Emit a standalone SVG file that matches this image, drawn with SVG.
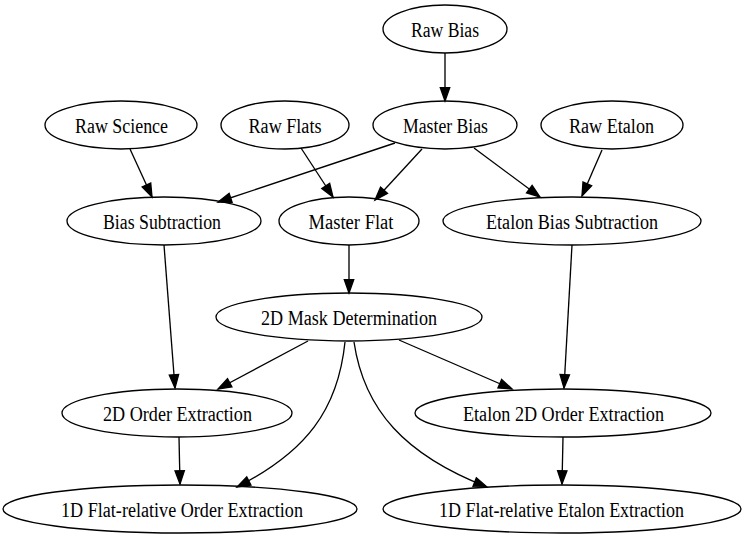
<svg xmlns="http://www.w3.org/2000/svg" width="745" height="539" viewBox="0 0 745 539">
<style>
  .node ellipse { fill: none; stroke: #000; stroke-width: 1.33; }
  .node text { font-family: "Liberation Serif", "Times New Roman", serif; font-size: 20.5px; text-anchor: middle; fill: #000; }
  #edges path { fill: none; stroke: #000; stroke-width: 1.33; marker-end: url(#arrow); }
</style>
<defs>
  <marker id="arrow" markerUnits="userSpaceOnUse" markerWidth="15" markerHeight="11" refX="13.3" refY="4.9" orient="auto" overflow="visible">
    <path d="M0,0.2 L13.3,4.9 L0,9.6 z" fill="#000" stroke="#000" stroke-width="1.33"/>
  </marker>
</defs>
<rect width="745" height="539" fill="#fff"/>
<g id="edges">
  <path d="M445,53 L445,101"/>
  <path d="M130,149 L152,197"/>
  <path d="M301,148 L333,197"/>
  <path d="M395,143 L218,202"/>
  <path d="M422,149 L375,200"/>
  <path d="M474,148 L540,197"/>
  <path d="M602,150 L582,196"/>
  <path d="M164,245 L175,388"/>
  <path d="M349,245 L349,293"/>
  <path d="M572,245 L564,388"/>
  <path d="M308,341 L218,389"/>
  <path d="M399,340 L512,389"/>
  <path d="M345,342 C338,410 306,452 237,487"/>
  <path d="M354,342 C364,410 405,455 487,487"/>
  <path d="M179,437 L180,484"/>
  <path d="M563,437 L562,484"/>
</g>
<g id="raw_bias" class="node"><ellipse cx="445" cy="29" rx="62" ry="24"/><text x="445" y="36.5" textLength="68" lengthAdjust="spacingAndGlyphs">Raw Bias</text></g>
<g id="raw_science" class="node"><ellipse cx="121" cy="125" rx="76" ry="24"/><text x="121.5" y="132.5" textLength="93" lengthAdjust="spacingAndGlyphs">Raw Science</text></g>
<g id="raw_flats" class="node"><ellipse cx="285" cy="125" rx="64" ry="24"/><text x="285" y="132.5" textLength="73" lengthAdjust="spacingAndGlyphs">Raw Flats</text></g>
<g id="master_bias" class="node"><ellipse cx="445" cy="125" rx="72" ry="24"/><text x="445.5" y="132.5" textLength="85" lengthAdjust="spacingAndGlyphs">Master Bias</text></g>
<g id="raw_etalon" class="node"><ellipse cx="612" cy="125" rx="71" ry="24"/><text x="611.5" y="132.5" textLength="85" lengthAdjust="spacingAndGlyphs">Raw Etalon</text></g>
<g id="bias_subtraction" class="node"><ellipse cx="164" cy="221" rx="97" ry="24"/><text x="162" y="228.5" textLength="118" lengthAdjust="spacingAndGlyphs">Bias Subtraction</text></g>
<g id="master_flat" class="node"><ellipse cx="349" cy="221" rx="70" ry="24"/><text x="351" y="228.5" textLength="85" lengthAdjust="spacingAndGlyphs">Master Flat</text></g>
<g id="etalon_bias_subtraction" class="node"><ellipse cx="572" cy="221" rx="129" ry="24"/><text x="572" y="228.5" textLength="172" lengthAdjust="spacingAndGlyphs">Etalon Bias Subtraction</text></g>
<g id="mask_2d" class="node"><ellipse cx="349" cy="317" rx="133" ry="24"/><text x="349" y="324.5" textLength="176" lengthAdjust="spacingAndGlyphs">2D Mask Determination</text></g>
<g id="order_2d" class="node"><ellipse cx="177" cy="413" rx="115" ry="24"/><text x="177.5" y="420.5" textLength="149" lengthAdjust="spacingAndGlyphs">2D Order Extraction</text></g>
<g id="etalon_order_2d" class="node"><ellipse cx="563" cy="413" rx="148" ry="24"/><text x="563.5" y="420.5" textLength="201" lengthAdjust="spacingAndGlyphs">Etalon 2D Order Extraction</text></g>
<g id="flat_order_1d" class="node"><ellipse cx="180" cy="509" rx="177" ry="24"/><text x="182" y="516.5" textLength="242" lengthAdjust="spacingAndGlyphs">1D Flat-relative Order Extraction</text></g>
<g id="flat_etalon_1d" class="node"><ellipse cx="562" cy="509" rx="179" ry="24"/><text x="561.5" y="516.5" textLength="245" lengthAdjust="spacingAndGlyphs">1D Flat-relative Etalon Extraction</text></g>
</svg>
